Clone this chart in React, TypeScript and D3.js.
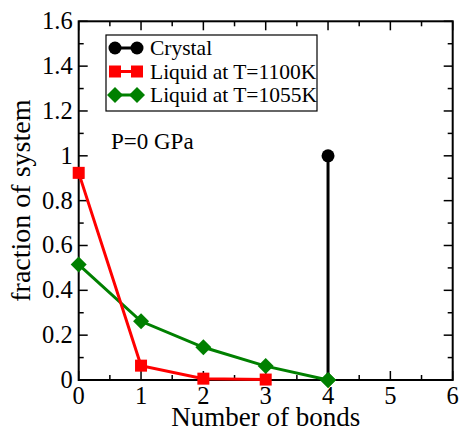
import React from 'react'
import * as d3 from 'd3'

const bonds = [0, 1, 2, 3, 4]
const crystalX = [4, 4]
const crystalY = [0, 1]
const liquid1100 = [0.924, 0.064, 0.006, 0.002]
const liquid1055 = [0.515, 0.262, 0.146, 0.062, 0.0]
const xTicks = [0, 1, 2, 3, 4, 5, 6]
const yTicks = [0, 0.2, 0.4, 0.6, 0.8, 1, 1.2, 1.4, 1.6]
const legendLabels = ['Crystal', 'Liquid at T=1100K', 'Liquid at T=1055K']

const W = 460
const H = 432
const margin = { left: 78.7, right: 7.3, top: 21.3, bottom: 52 }
const font = "'Liberation Serif', 'Times New Roman', Times, 'DejaVu Serif', serif"

export default function App() {
  const x = d3.scaleLinear().domain([0, 6]).range([margin.left, W - margin.right])
  const y = d3.scaleLinear().domain([0, 1.6]).range([H - margin.bottom, margin.top])
  const line = d3.line<[number, number]>().x(d => x(d[0])).y(d => y(d[1]))

  const xMinor = d3.range(0.5, 6, 1)
  const yMinor = d3.range(0.1, 1.6, 0.2)
  const x0 = x(0), x1 = x(6), y0 = y(0), y1 = y(1.6)

  const crystal: [number, number][] = crystalX.map((v, i) => [v, crystalY[i]])
  const red: [number, number][] = liquid1100.map((v, i) => [bonds[i], v])
  const green: [number, number][] = liquid1055.map((v, i) => [bonds[i], v])

  const diamond = (cx: number, cy: number, r: number) =>
    `M${cx},${cy - r}L${cx + r},${cy}L${cx},${cy + r}L${cx - r},${cy}Z`

  const legendRows = [
    { label: legendLabels[0], color: 'black', kind: 'circle' },
    { label: legendLabels[1], color: 'red', kind: 'square' },
    { label: legendLabels[2], color: 'green', kind: 'diamond' },
  ]

  return (
    <svg width={W} height={H} style={{ position: 'absolute', left: 0, top: 0, fontFamily: font }}>
      <rect width={W} height={H} fill="white" />
      {/* ticks */}
      <g stroke="black" strokeWidth={1.5}>
        {xTicks.map(t => (
          <g key={'xt' + t}>
            <line x1={x(t)} x2={x(t)} y1={y0} y2={y0 - 9} />
            <line x1={x(t)} x2={x(t)} y1={y1} y2={y1 + 9} />
          </g>
        ))}
        {xMinor.map(t => (
          <g key={'xm' + t}>
            <line x1={x(t)} x2={x(t)} y1={y0} y2={y0 - 5} />
            <line x1={x(t)} x2={x(t)} y1={y1} y2={y1 + 5} />
          </g>
        ))}
        {yTicks.map(t => (
          <g key={'yt' + t}>
            <line x1={x0} x2={x0 + 9} y1={y(t)} y2={y(t)} />
            <line x1={x1} x2={x1 - 9} y1={y(t)} y2={y(t)} />
          </g>
        ))}
        {yMinor.map(t => (
          <g key={'ym' + t}>
            <line x1={x0} x2={x0 + 5} y1={y(t)} y2={y(t)} />
            <line x1={x1} x2={x1 - 5} y1={y(t)} y2={y(t)} />
          </g>
        ))}
      </g>
      <rect x={x0} y={y1} width={x1 - x0} height={y0 - y1} fill="none" stroke="black" strokeWidth={2} />

      {/* series */}
      <path d={line(green) || ''} fill="none" stroke="green" strokeWidth={3} />
      {green.map((d, i) => (
        <path key={'g' + i} d={diamond(x(d[0]), y(d[1]), 8)} fill="green" />
      ))}
      <path d={line(red) || ''} fill="none" stroke="red" strokeWidth={3} />
      {red.map((d, i) => (
        <rect key={'r' + i} x={x(d[0]) - 6} y={y(d[1]) - 6} width={12} height={12} fill="red" />
      ))}
      <path d={line(crystal) || ''} fill="none" stroke="black" strokeWidth={3} />
      <circle cx={x(crystal[1][0])} cy={y(crystal[1][1])} r={6.5} fill="black" />
      {green.filter(d => d[0] === 4).map((d, i) => (
        <path key={'g4' + i} d={diamond(x(d[0]), y(d[1]), 8)} fill="green" />
      ))}

      {/* tick labels */}
      <g fontSize={24.5} fill="black">
        {xTicks.map(t => (
          <text key={'xl' + t} x={x(t)} y={y0 + 24} textAnchor="middle">{t}</text>
        ))}
        {yTicks.map(t => (
          <text key={'yl' + t} x={x0 - 6} y={y(t) + 8} textAnchor="end">{String(t)}</text>
        ))}
      </g>

      {/* axis titles */}
      <text x={(x0 + x1) / 2} y={426} textAnchor="middle" fontSize={27}>Number of bonds</text>
      <text transform={`translate(30,${(y0 + y1) / 2}) rotate(-90)`} textAnchor="middle" fontSize={28}>fraction of system</text>

      {/* legend */}
      <rect x={106} y={35} width={211} height={76} fill="white" stroke="black" strokeWidth={1.2} />
      {legendRows.map((r, i) => {
        const cy = 48 + i * 23.5
        return (
          <g key={'lg' + i}>
            <line x1={115} x2={137} y1={cy} y2={cy} stroke={r.color} strokeWidth={3} />
            {r.kind === 'circle' && (
              <>
                <circle cx={115} cy={cy} r={6.5} fill={r.color} />
                <circle cx={137} cy={cy} r={6.5} fill={r.color} />
              </>
            )}
            {r.kind === 'square' && (
              <>
                <rect x={109} y={cy - 6} width={12} height={12} fill={r.color} />
                <rect x={131} y={cy - 6} width={12} height={12} fill={r.color} />
              </>
            )}
            {r.kind === 'diamond' && (
              <>
                <path d={diamond(115, cy, 8)} fill={r.color} />
                <path d={diamond(137, cy, 8)} fill={r.color} />
              </>
            )}
            <text x={150} y={cy + 7} fontSize={21.5}>{r.label}</text>
          </g>
        )
      })}

      <text x={111} y={149} fontSize={23}>P=0 GPa</text>
    </svg>
  )
}
